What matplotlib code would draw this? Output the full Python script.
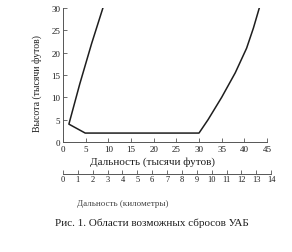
import matplotlib
matplotlib.use("Agg")
import matplotlib.pyplot as plt

# -------- DATA (thousand feet) --------
# boundary of the release zone: left curve top -> kink -> floor -> right curve
bound_x = [8.8, 6.3, 3.7, 1.3, 4.9, 30.0, 32.0, 35.0, 38.0, 40.5, 42.0, 43.3]
bound_y = [30.0, 22.0, 13.0, 4.0, 2.0, 2.0, 5.0, 10.0, 15.5, 21.0, 25.5, 30.0]

ft_ticks = [0, 5, 10, 15, 20, 25, 30, 35, 40, 45]
alt_ticks = [0, 5, 10, 15, 20, 25, 30]
km_ticks = list(range(0, 15))

ink = "#1e1e1e"
plt.rcParams['font.family'] = ['Liberation Serif', 'DejaVu Serif']

fig = plt.figure(figsize=(2.92, 2.53), dpi=100)

# -------- MAIN AXES --------
ax = fig.add_axes([63/292, 110/253, 204/292, 134/253])
ax.plot(bound_x, bound_y, color=ink, lw=1.1)
ax.set_xlim(0, 45)
ax.set_ylim(0, 30)
ax.set_xticks(ft_ticks)
ax.set_yticks(alt_ticks)
for s in ["top", "right"]:
    ax.spines[s].set_visible(False)
for s in ["left", "bottom"]:
    ax.spines[s].set_color("#555555")
    ax.spines[s].set_linewidth(0.7)
ax.tick_params(direction="in", length=3, width=0.6, colors="#555555",
               labelcolor=ink, labelsize=6.5, pad=2)

# -------- KM SCALE --------
kmw = (14 / 0.3048) * 204 / 45
ax2 = fig.add_axes([63/292, (253-175)/253, kmw/292, 0.001])
ax2.set_xlim(0, 14)
ax2.set_xticks(km_ticks)
ax2.set_yticks([])
for s in ["top", "right", "left"]:
    ax2.spines[s].set_visible(False)
ax2.spines["bottom"].set_color("#555555")
ax2.spines["bottom"].set_linewidth(0.7)
ax2.tick_params(axis="x", direction="in", length=3, width=0.6, colors="#555555",
                labelcolor=ink, labelsize=6, pad=1)

# -------- TEXTS --------
fig.text(152/292, 1 - 162/253, "Дальность (тысячи футов)", ha="center", va="center",
         fontsize=8, color=ink)
fig.text(37/292, 1 - 84/253, "Высота (тысячи футов)", ha="center", va="center",
         rotation=90, fontsize=7, color=ink)
fig.text(123/292, 1 - 204/253, "Дальность (километры)", ha="center", va="center",
         fontsize=6.5, color="#444444")
fig.text(152/292, 1 - 223/253, "Рис. 1. Области возможных сбросов УАБ", ha="center",
         va="center", fontsize=8, color=ink)

fig.savefig("out.png", dpi=100)
